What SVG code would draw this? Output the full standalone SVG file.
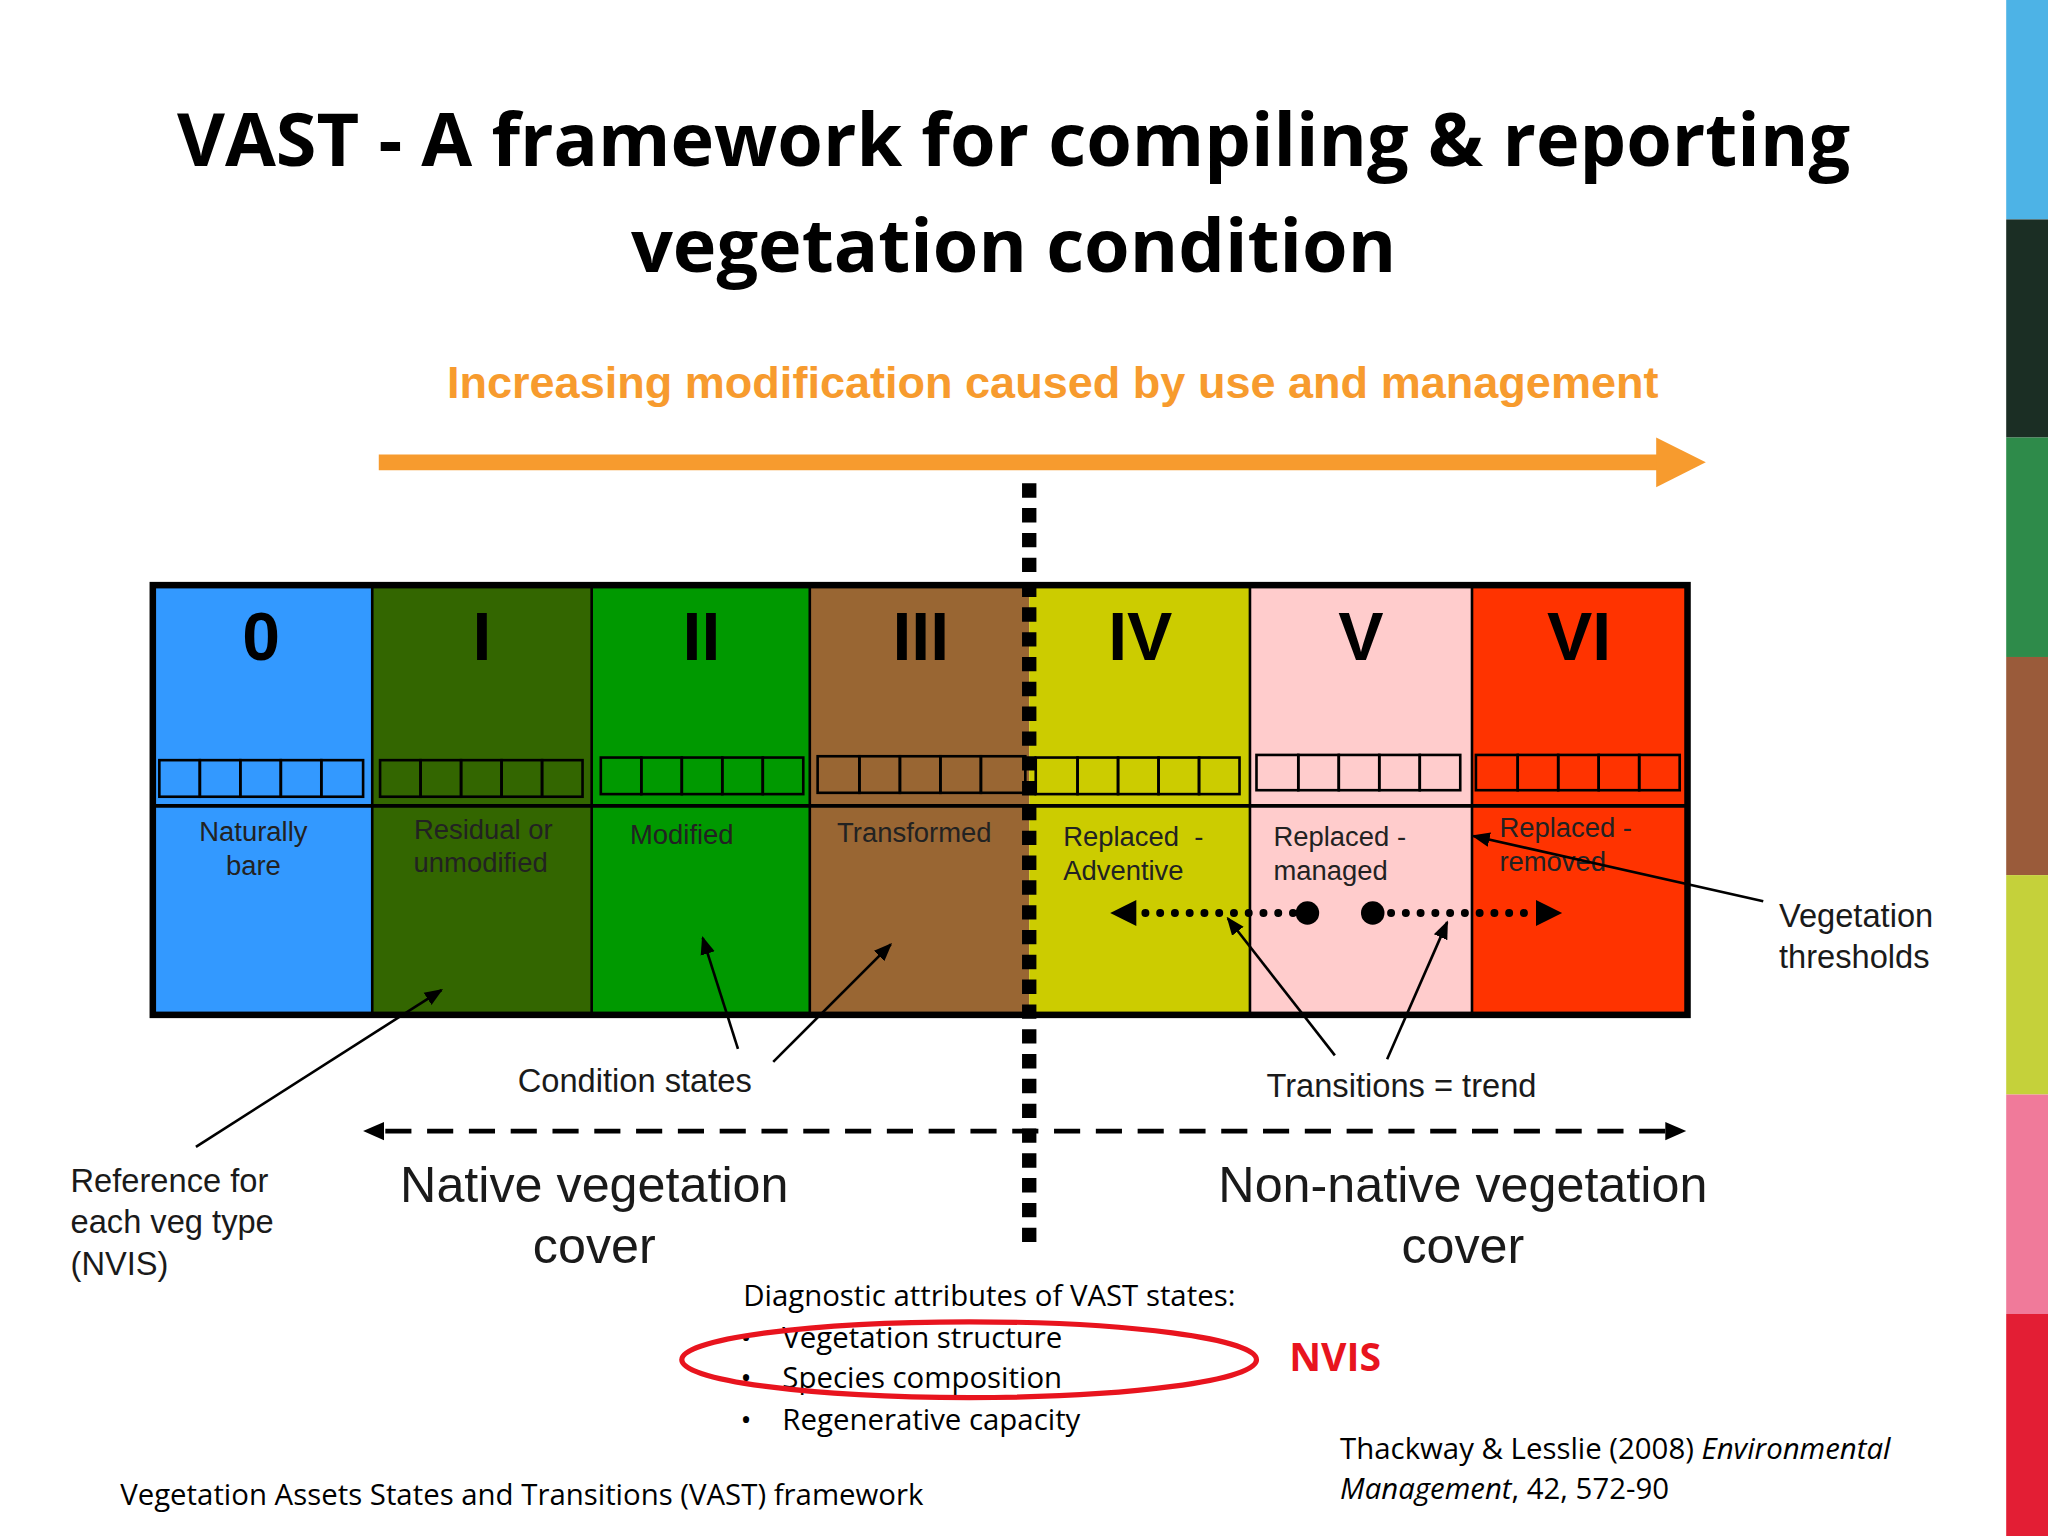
<svg xmlns="http://www.w3.org/2000/svg" width="2048" height="1536" viewBox="0 0 2048 1536">
<defs>
<style>
.t{font-family:"Open Sans","Liberation Sans",sans-serif;fill:#000}
.a{font-family:"Liberation Sans",Arial,sans-serif;fill:#1a1a1a}
.num{font-family:"Liberation Sans",Arial,sans-serif;font-weight:bold;font-size:52px;text-anchor:middle}
.lab{font-family:"Liberation Sans",Arial,sans-serif;font-size:21px;fill:#222}
.sq{fill:none;stroke:#000;stroke-width:2}
.thin{stroke:#000;stroke-width:2;fill:none}
</style>
<marker id="ah" viewBox="0 0 10 10" refX="9" refY="5" markerWidth="7" markerHeight="7" markerUnits="strokeWidth" orient="auto"><path d="M0,1 L10,5 L0,9 z" fill="#000"/></marker>
</defs>
<rect width="2048" height="1536" fill="#fff"/>
<g transform="scale(1.306122)">
<g id="strip">
<rect x="1536" y="0" width="32" height="168" fill="#4DB3E6"/>
<rect x="1536" y="168" width="32" height="167" fill="#1B2E24"/>
<rect x="1536" y="335" width="32" height="168" fill="#2E8B4A"/>
<rect x="1536" y="503" width="32" height="167" fill="#9A5B3A"/>
<rect x="1536" y="670" width="32" height="168" fill="#C5D13A"/>
<rect x="1536" y="838" width="32" height="168" fill="#F07A9A"/>
<rect x="1536" y="1006" width="32" height="170" fill="#E31E34"/>
</g>
<g id="title" class="t" font-weight="bold" font-size="56.5" text-anchor="middle">
<text x="776" y="127">VAST - A framework for compiling &amp; reporting</text>
<text x="776" y="208">vegetation condition</text>
</g>
<g id="mod">
<text x="806" y="305" font-family="Liberation Sans,Arial,sans-serif" font-weight="bold" font-size="34.5" fill="#F79B2E" text-anchor="middle">Increasing modification caused by use and management</text>
<line x1="290" y1="354" x2="1272" y2="354" stroke="#F79B2E" stroke-width="12"/>
<path d="M1268,335 L1306,354 L1268,373 z" fill="#F79B2E"/>
</g>
<g id="states">
<rect x="115" y="447" width="170" height="331" fill="#3399FF"/>
<rect x="285" y="447" width="168" height="331" fill="#336600"/>
<rect x="453" y="447" width="167" height="331" fill="#009900"/>
<rect x="620" y="447" width="168" height="331" fill="#996633"/>
<rect x="788" y="447" width="169" height="331" fill="#CCCC00"/>
<rect x="957" y="447" width="170" height="331" fill="#FFCCCC"/>
<rect x="1127" y="447" width="166" height="331" fill="#FF3300"/>
<g stroke="#000" stroke-width="2">
<line x1="285" y1="447" x2="285" y2="778"/><line x1="453" y1="447" x2="453" y2="778"/>
<line x1="620" y1="447" x2="620" y2="778"/><line x1="957" y1="447" x2="957" y2="778"/>
<line x1="1127" y1="447" x2="1127" y2="778"/>
<line x1="115" y1="617" x2="1293" y2="617" stroke-width="3"/>
</g>
<rect x="117" y="448" width="1175" height="329" fill="none" stroke="#000" stroke-width="5"/>
<g class="num">
<text x="200" y="505">0</text><text x="369" y="505">I</text><text x="537" y="505">II</text>
<text x="705" y="505">III</text><text x="873" y="505">IV</text><text x="1042" y="505">V</text><text x="1209" y="505">VI</text>
</g>
<g class="sq">
<rect x="122" y="582" width="31" height="28"/><rect x="153" y="582" width="31" height="28"/><rect x="184" y="582" width="31" height="28"/><rect x="215" y="582" width="31" height="28"/><rect x="246" y="582" width="32" height="28"/>
<rect x="291" y="582" width="31" height="28"/><rect x="322" y="582" width="31" height="28"/><rect x="353" y="582" width="31" height="28"/><rect x="384" y="582" width="31" height="28"/><rect x="415" y="582" width="31" height="28"/>
<rect x="460" y="580" width="31" height="28"/><rect x="491" y="580" width="31" height="28"/><rect x="522" y="580" width="31" height="28"/><rect x="553" y="580" width="31" height="28"/><rect x="584" y="580" width="31" height="28"/>
<rect x="626" y="579" width="32" height="28"/><rect x="658" y="579" width="31" height="28"/><rect x="689" y="579" width="31" height="28"/><rect x="720" y="579" width="31" height="28"/><rect x="751" y="579" width="34" height="28"/>
<rect x="793" y="580" width="32" height="28"/><rect x="825" y="580" width="31" height="28"/><rect x="856" y="580" width="31" height="28"/><rect x="887" y="580" width="31" height="28"/><rect x="918" y="580" width="31" height="28"/>
<rect x="962" y="578" width="32" height="27"/><rect x="994" y="578" width="31" height="27"/><rect x="1025" y="578" width="31" height="27"/><rect x="1056" y="578" width="31" height="27"/><rect x="1087" y="578" width="31" height="27"/>
<rect x="1130" y="578" width="32" height="27"/><rect x="1162" y="578" width="31" height="27"/><rect x="1193" y="578" width="31" height="27"/><rect x="1224" y="578" width="31" height="27"/><rect x="1255" y="578" width="31" height="27"/>
</g>
<g class="lab">
<text x="194" y="644" text-anchor="middle">Naturally</text><text x="194" y="670" text-anchor="middle">bare</text>
<text x="370" y="642" text-anchor="middle">Residual or</text><text x="368" y="668" text-anchor="middle">unmodified</text>
<text x="522" y="646" text-anchor="middle">Modified</text>
<text x="700" y="645" text-anchor="middle">Transformed</text>
<text x="814" y="648" xml:space="preserve">Replaced  -</text><text x="814" y="674">Adventive</text>
<text x="975" y="648">Replaced -</text><text x="975" y="674">managed</text>
<text x="1148" y="641">Replaced -</text><text x="1148" y="667">removed</text>
</g>
</g>
<g id="connectors">
<line x1="788" y1="370" x2="788" y2="958" stroke="#000" stroke-width="11" stroke-dasharray="11,8"/>
<line x1="990" y1="699" x2="870" y2="699" stroke="#000" stroke-width="6" stroke-dasharray="0.1,11.2" stroke-linecap="round"/>
<path d="M850,699 L870,689 L870,709 z" fill="#000"/>
<circle cx="1001" cy="699" r="9"/>
<circle cx="1051" cy="699" r="9"/>
<line x1="1065" y1="699" x2="1176" y2="699" stroke="#000" stroke-width="6" stroke-dasharray="0.1,11.2" stroke-linecap="round"/>
<path d="M1196,699 L1176,689 L1176,709 z" fill="#000"/>
<line x1="295" y1="866" x2="1275" y2="866" stroke="#000" stroke-width="3.5" stroke-dasharray="20,12"/>
<path d="M278,866 L294,859 L294,873 z" fill="#000"/>
<path d="M1291,866 L1275,859 L1275,873 z" fill="#000"/>
<line class="thin" x1="150" y1="878" x2="338" y2="758" marker-end="url(#ah)"/>
<line class="thin" x1="565" y1="803" x2="538" y2="718" marker-end="url(#ah)"/>
<line class="thin" x1="592" y1="813" x2="682" y2="723" marker-end="url(#ah)"/>
<line class="thin" x1="1022" y1="808" x2="940" y2="703" marker-end="url(#ah)"/>
<line class="thin" x1="1062" y1="811" x2="1108" y2="706" marker-end="url(#ah)"/>
<line class="thin" x1="1350" y1="690" x2="1128" y2="640" marker-end="url(#ah)"/>
</g>
<g id="labels" class="a" font-size="25">
<text x="486" y="836" text-anchor="middle">Condition states</text>
<text x="1073" y="840" text-anchor="middle">Transitions = trend</text>
<text x="1362" y="710">Vegetation</text><text x="1362" y="741">thresholds</text>
<text x="54" y="913">Reference for</text><text x="54" y="944">each veg type</text><text x="54" y="976">(NVIS)</text>
<text x="455" y="920" font-size="38.5" text-anchor="middle">Native vegetation</text>
<text x="455" y="967" font-size="38.5" text-anchor="middle">cover</text>
<text x="1120" y="920" font-size="38.5" text-anchor="middle">Non-native vegetation</text>
<text x="1120" y="967" font-size="38.5" text-anchor="middle">cover</text>
</g>
<g id="diag" class="t" font-size="22.5">
<text x="569" y="1000">Diagnostic attributes of VAST states:</text>
<text x="567" y="1032">•</text><text x="599" y="1032">Vegetation structure</text>
<text x="567" y="1063">•</text><text x="599" y="1063">Species composition</text>
<text x="567" y="1095">•</text><text x="599" y="1095">Regenerative capacity</text>
<ellipse cx="742" cy="1041" rx="220" ry="29" fill="none" stroke="#E8141E" stroke-width="4"/>
<text x="987" y="1050" font-size="30" font-weight="bold" style="fill:#E8141E">NVIS</text>
<text x="1026" y="1117">Thackway &amp; Lesslie (2008) <tspan font-style="italic">Environmental</tspan></text>
<text x="1026" y="1148"><tspan font-style="italic">Management</tspan>, 42, 572-90</text>
<text x="92" y="1152">Vegetation Assets States and Transitions (VAST) framework</text>
</g>
</g>
</svg>
